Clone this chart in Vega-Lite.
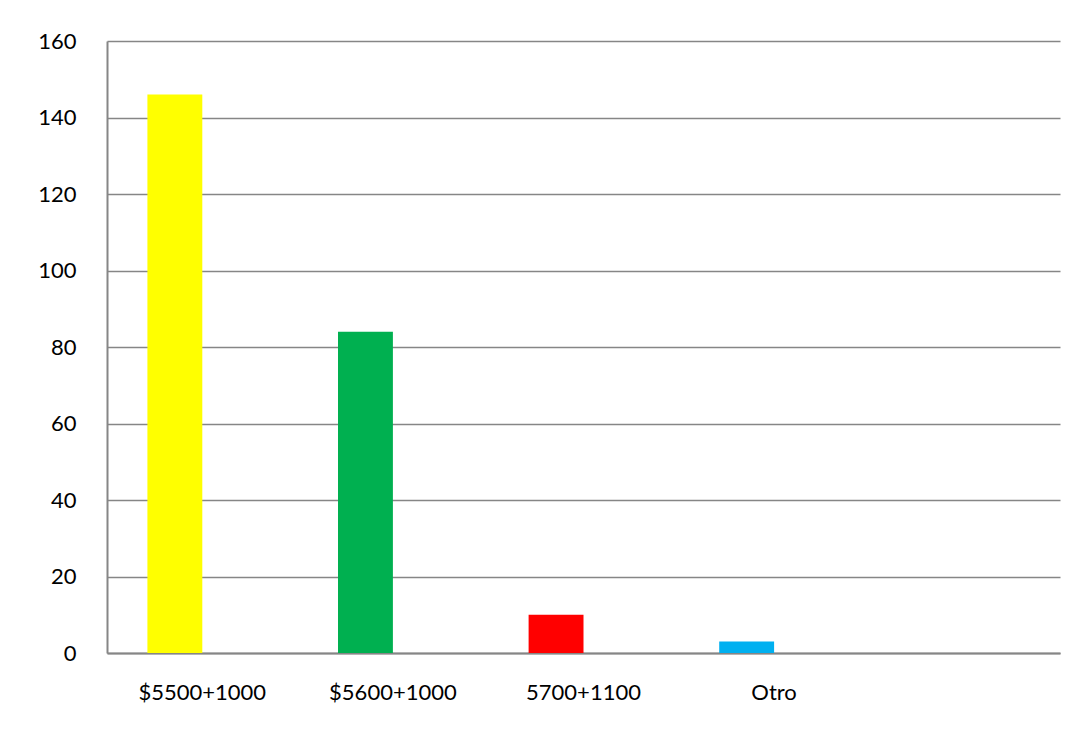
{
  "$schema": "https://vega.github.io/schema/vega-lite/v6.json",
  "width": 953,
  "height": 612,
  "autosize": "none",
  "padding": {"left": 107, "top": 41, "right": 15, "bottom": 78},
  "background": "white",
  "config": {"view": {"stroke": null}, "font": "Lato"},
  "data": {
    "values": [
      {"cat": "$5500+1000", "s": "a", "v": 146},
      {"cat": "$5600+1000", "s": "a", "v": 84},
      {"cat": "5700+1100", "s": "a", "v": 10},
      {"cat": "Otro", "s": "a", "v": 3}
    ]
  },
  "mark": {"type": "bar"},
  "encoding": {
    "x": {
      "field": "cat",
      "type": "nominal",
      "sort": null,
      "scale": {
        "domain": ["$5500+1000", "$5600+1000", "5700+1100", "Otro", " "],
        "paddingInner": 0.424,
        "paddingOuter": 0.212
      },
      "axis": {
        "title": null,
        "labelAngle": 0,
        "ticks": false,
        "domainColor": "#868686",
        "domainWidth": 2,
        "labelFontSize": 22,
        "labelPadding": 29,
        "labelColor": "#000000"
      }
    },
    "xOffset": {
      "field": "s",
      "type": "nominal",
      "scale": {"domain": ["a", "b"], "paddingInner": 0, "paddingOuter": 0}
    },
    "y": {
      "field": "v",
      "type": "quantitative",
      "scale": {"domain": [0, 160], "nice": false},
      "axis": {
        "title": null,
        "values": [0, 20, 40, 60, 80, 100, 120, 140, 160],
        "ticks": false,
        "domainColor": "#868686",
        "domainWidth": 2,
        "gridColor": "#868686",
        "gridWidth": 1.5,
        "labelFontSize": 22,
        "labelPadding": 31,
        "labelColor": "#000000"
      }
    },
    "color": {
      "field": "cat",
      "type": "nominal",
      "scale": {
        "domain": ["$5500+1000", "$5600+1000", "5700+1100", "Otro"],
        "range": ["#FFFF00", "#00B050", "#FF0000", "#00B0F0"]
      },
      "legend": null
    }
  }
}
